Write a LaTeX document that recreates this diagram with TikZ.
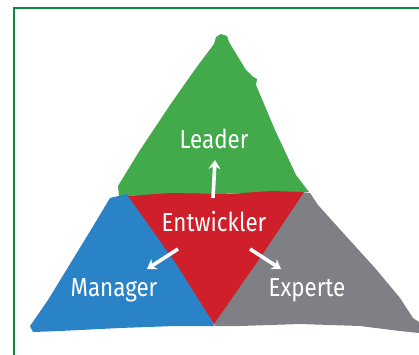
\documentclass[tikz,border=0pt]{standalone}
\usepackage{fontspec}
\setmainfont{Fira Sans}[FakeStretch=0.86]
\usetikzlibrary{arrows.meta}
\definecolor{framegreen}{HTML}{0A8A45}
\definecolor{leadgreen}{HTML}{42AA4B}
\definecolor{devred}{HTML}{CE1F2A}
\definecolor{mgrblue}{HTML}{2A83C7}
\definecolor{expgray}{HTML}{7F8085}
\begin{document}
\begin{tikzpicture}[x=1pt,y=-1pt,
  area/.style={line join=round},
  lbl/.style={text=white,font=\fontsize{26}{28}\selectfont,inner sep=0pt,anchor=base},
  arr/.style={draw=white,line width=3.6pt,-{Stealth[length=9pt,width=12pt,inset=3pt]}}]
\useasboundingbox (0,0) rectangle (419,354);
\clip (0,0) rectangle (419,354);
% outer frame
\draw[framegreen,line width=1.2pt] (14,8) rectangle (430,370);
% green top part
\fill[leadgreen,area] (119,196) -- (118,186) -- (140,150) -- (170,105) -- (196,68) -- (214,44)
  -- (216,37) -- (221,34) -- (227,36) -- (229,42) -- (246,70) -- (252,76) -- (257,79) -- (256,85)
  -- (275,130) -- (296,175) -- (309,192) -- cycle;
% blue bottom-left part
\fill[mgrblue,area] (110,198) -- (127,194) -- (165,245) -- (213,322) -- (214,326) -- (175,326)
  -- (120,328) -- (60,331) -- (33,332) -- (30,326) -- (48,300) -- (70,264) -- (92,228) -- cycle;
% gray bottom-right part
\fill[expgray,area] (300,192) -- (310,193) -- (318,205) -- (345,235) -- (375,268) -- (400,298)
  -- (413,318) -- (419,322) -- (419,333) -- (400,331) -- (360,326) -- (300,324) -- (240,326)
  -- (215,326) -- (213,322) -- (250,262) -- cycle;
% red center part
\fill[devred,area] (128,196) -- (170,193) -- (230,194) -- (270,191) -- (304,192)
  -- (262,255) -- (214,324) -- (175,262) -- cycle;
% labels
\node[lbl] (lead) at (214,148) {Leader};
\node[lbl] (dev) at (214,231) {Entwickler};
\node[lbl] (mgr) at (114,296) {Manager};
\node[lbl] (exp) at (307,296) {Experte};
% arrow end points
\coordinate (upS) at (213,198);
\coordinate (upE) at (215,160);
\coordinate (lfS) at (178,249);
\coordinate (lfE) at (147,269);
\coordinate (rtS) at (250,249);
\coordinate (rtE) at (281,269);
\draw[arr] (upS) -- (upE);
\draw[arr] (lfS) -- (lfE);
\draw[arr] (rtS) -- (rtE);
\end{tikzpicture}
\end{document}
